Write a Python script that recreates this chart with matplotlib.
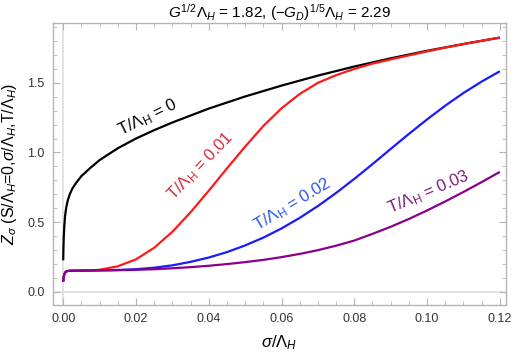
import matplotlib
matplotlib.use("Agg")
import matplotlib.pyplot as plt
from matplotlib.ticker import MultipleLocator, FormatStrFormatter

plt.rcParams['font.family'] = ['Liberation Sans', 'DejaVu Sans']
plt.rcParams['mathtext.fontset'] = 'custom'
plt.rcParams['mathtext.rm'] = 'Liberation Sans'
plt.rcParams['mathtext.it'] = 'Liberation Sans:italic'
plt.rcParams['mathtext.bf'] = 'Liberation Sans:bold'

# values: sigma/Lambda_H -> Z_sigma
x_t0 = [0.0, 0.00005, 0.00015, 0.0003, 0.0005, 0.0008, 0.0012, 0.0018, 0.0025,
        0.0035, 0.005, 0.0075, 0.010, 0.015, 0.020, 0.025, 0.030, 0.040, 0.050,
        0.060, 0.070, 0.080, 0.090, 0.100, 0.110, 0.120]
z_t0 = [0.225, 0.30, 0.39, 0.47, 0.54, 0.60, 0.65, 0.70, 0.74,
        0.78, 0.83, 0.89, 0.945, 1.03, 1.10, 1.16, 1.215, 1.315, 1.402,
        1.48, 1.552, 1.617, 1.676, 1.730, 1.779, 1.825]

# the three finite-T curves share the same start near sigma = 0
x_start = [0.0, 0.0001, 0.0003, 0.0006, 0.001, 0.0018, 0.004]
z_start = [0.072, 0.10, 0.125, 0.140, 0.147, 0.150, 0.151]

x_t1 = x_start + [0.008, 0.010, 0.015, 0.020, 0.025, 0.030, 0.035, 0.040, 0.045,
                  0.050, 0.055, 0.060, 0.065, 0.070, 0.075, 0.080, 0.085, 0.090,
                  0.095, 0.100, 0.105, 0.110, 0.115, 0.120]
z_t1 = z_start + [0.153, 0.157, 0.182, 0.232, 0.315, 0.430, 0.570, 0.725, 0.885,
                  1.042, 1.190, 1.317, 1.420, 1.500, 1.555, 1.600, 1.638, 1.668,
                  1.697, 1.726, 1.753, 1.778, 1.802, 1.825]

x_t2 = x_start + [0.008, 0.012, 0.015, 0.020, 0.025, 0.030, 0.035, 0.040, 0.045,
                  0.050, 0.055, 0.060, 0.065, 0.070, 0.075, 0.080, 0.085, 0.090,
                  0.095, 0.100, 0.105, 0.110, 0.115, 0.120]
z_t2 = z_start + [0.152, 0.154, 0.1555, 0.161, 0.172, 0.189, 0.214, 0.245, 0.284,
                  0.332, 0.388, 0.454, 0.530, 0.615, 0.709, 0.810, 0.916, 1.025,
                  1.133, 1.237, 1.336, 1.427, 1.509, 1.583]

x_t3 = x_start + [0.010, 0.015, 0.020, 0.025, 0.030, 0.035, 0.040, 0.045, 0.050,
                  0.055, 0.060, 0.065, 0.070, 0.075, 0.080, 0.085, 0.090, 0.095,
                  0.100, 0.105, 0.110, 0.115, 0.120]
z_t3 = z_start + [0.152, 0.154, 0.157, 0.161, 0.168, 0.176, 0.186, 0.198, 0.212,
                  0.228, 0.248, 0.271, 0.298, 0.330, 0.367, 0.415, 0.466, 0.522,
                  0.583, 0.648, 0.716, 0.787, 0.860]

label_texts = [r'T/$\Lambda_\mathregular{H}$ = 0', r'T/$\Lambda_\mathregular{H}$ = 0.01',
               r'T/$\Lambda_\mathregular{H}$ = 0.02', r'T/$\Lambda_\mathregular{H}$ = 0.03']

fig = plt.figure(figsize=(5.26, 3.59), dpi=100)
ax = fig.add_axes([0.1008, 0.1504, 0.8612, 0.7856])

gray = '#b4b4b4'
ax.axvline(0, color='#dedede', lw=1.2, zorder=0)
ax.axhline(0, color='#dedede', lw=1.2, zorder=0)

curves = [(x_t0, z_t0, 'black'), (x_t1, z_t1, '#ff1a1a'),
          (x_t2, z_t2, '#1a1aff'), (x_t3, z_t3, '#8b008b')]
for xs, zs, c in curves:
    ax.plot(xs, zs, color=c, lw=1.6, solid_capstyle='butt')

# curve labels
label_pos = [(0.0232, 1.25, 26, 'black'),
             (0.0378, 0.905, 46, '#d42a3a'),
             (0.0630, 0.625, 31, '#2a55ee'),
             (0.1003, 0.715, 23, '#7a1a7a')]
for txt, (lx, ly, rot, c) in zip(label_texts, label_pos):
    ax.text(lx, ly, txt, color=c, fontsize=12, rotation=rot,
            rotation_mode='anchor', ha='center', va='center')

ax.set_xlim(-0.0028, 0.1217)
ax.set_ylim(-0.096, 1.93)
ax.xaxis.set_major_locator(MultipleLocator(0.02))
ax.xaxis.set_minor_locator(MultipleLocator(0.005))
ax.yaxis.set_major_locator(MultipleLocator(0.5))
ax.yaxis.set_minor_locator(MultipleLocator(0.1))
ax.xaxis.set_major_formatter(FormatStrFormatter('%.2f'))
ax.yaxis.set_major_formatter(FormatStrFormatter('%.1f'))
ax.tick_params(which='both', direction='in', top=True, right=True,
               color=gray, labelsize=9, labelcolor='#333333')
ax.tick_params(which='major', length=5, width=0.8, pad=6)
ax.tick_params(which='minor', length=3, width=0.6)
for sp in ax.spines.values():
    sp.set_color(gray)
    sp.set_linewidth(1.0)

ax.set_xlabel(r'$\sigma/\Lambda_H$', fontsize=12, labelpad=6)
ax.set_ylabel(r'$Z_\sigma$ (S/$\Lambda_H$=0,$\sigma/\Lambda_H$,T/$\Lambda_H$)',
              fontsize=11.5, labelpad=6)
ax.set_title(r'$G^{1/2}\Lambda_H$ = 1.82, $(-G_D)^{1/5}\Lambda_H$ = 2.29',
             fontsize=11, pad=4)

fig.savefig('out.png', dpi=100)
